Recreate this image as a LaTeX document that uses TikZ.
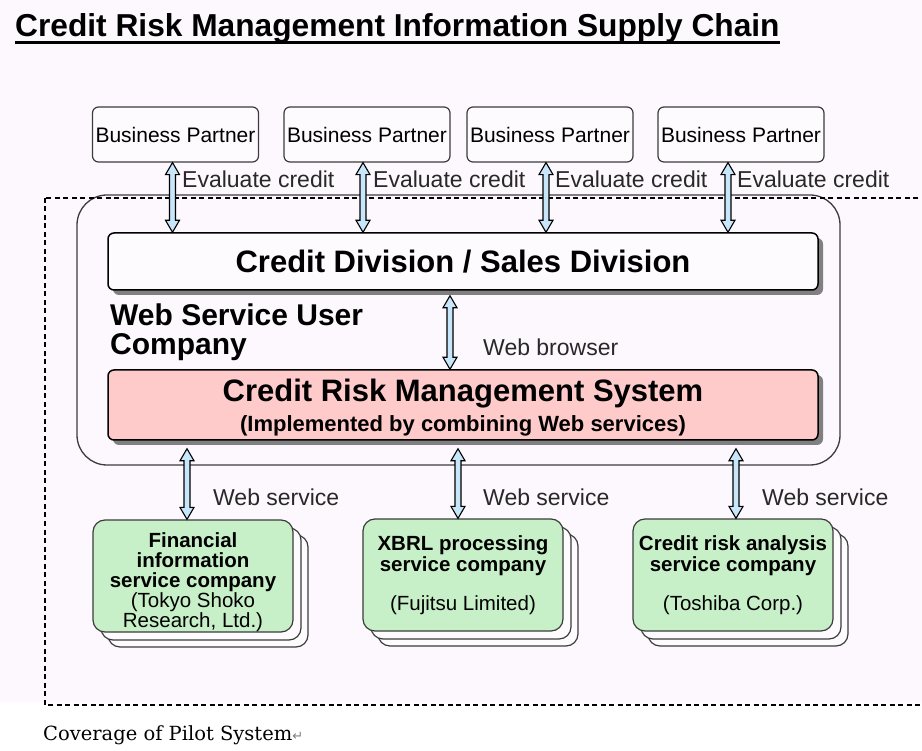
\documentclass[tikz,border=0pt]{standalone}
\usepackage{fontspec}
\setmainfont{Liberation Sans}
\newfontfamily\notefont{DejaVu Serif}
\newfontfamily\symbfont{DejaVu Sans}
\usetikzlibrary{calc,shadows}

\definecolor{pageColor}{RGB}{253,248,253}
\definecolor{lineColor}{RGB}{60,60,60}
\definecolor{shadowColor}{RGB}{128,128,128}
\definecolor{crmColor}{RGB}{255,202,202}
\definecolor{companyColor}{RGB}{200,240,200}
\definecolor{arrowColor}{RGB}{200,230,250}
\definecolor{textColor}{RGB}{40,40,40}

\tikzset{
  partner/.style={draw=lineColor, line width=1.2pt, rounded corners=6pt,
    fill=white!50!pageColor, minimum width=166pt, minimum height=55pt,
    inner sep=0pt, font=\fontsize{21}{24}\selectfont},
  division/.style={draw=black, line width=1.5pt, rounded corners=6pt,
    minimum width=710pt, inner sep=0pt, font=\bfseries\fontsize{31}{33}\selectfont,
    drop shadow={shadow xshift=5pt, shadow yshift=-5pt, fill=shadowColor, opacity=1}},
  company/.style={draw=lineColor, line width=1.2pt, rounded corners=12pt,
    minimum width=200pt, minimum height=112pt, inner sep=0pt, align=center,
    font=\fontsize{20.5}{21}\selectfont},
  flowlabel/.style={anchor=base west, inner sep=0pt, text=textColor,
    font=\fontsize{23}{26}\selectfont},
  linkarrow/.style={draw=black, line width=1.1pt, fill=arrowColor, line join=miter},
  coverage/.style={draw=black, line width=1.9pt, dash pattern=on 5pt off 3.5pt}
}

% hollow two-headed arrow, vertical, x taken from the first point
\newcommand{\wsarrow}[3][0pt]{%
  \draw[linkarrow] let \p1=(#2), \p2=(#3) in
    ({\x1+(#1)},\y1) -- ({\x1+(#1)+7pt},{\y1-12pt}) -- ({\x1+(#1)+3pt},{\y1-12pt})
    -- ({\x1+(#1)+3pt},{\y2+12pt}) -- ({\x1+(#1)+7pt},{\y2+12pt}) -- ({\x1+(#1)},\y2)
    -- ({\x1+(#1)-7pt},{\y2+12pt}) -- ({\x1+(#1)-3pt},{\y2+12pt})
    -- ({\x1+(#1)-3pt},{\y1-12pt}) -- ({\x1+(#1)-7pt},{\y1-12pt}) -- cycle;}

\begin{document}
\begin{tikzpicture}[x=1pt,y=-1pt]
\fill[white] (0,0) rectangle (922,751);
\fill[pageColor] (0,0) rectangle (922,702);
\path[use as bounding box] (0,0) rectangle (922,751);

% title
\node[anchor=base west, inner sep=0pt, font=\bfseries\fontsize{31.7}{34}\selectfont] (title) at (15,37)
  {Credit Risk Management Information Supply Chain};
\draw[line width=2.5pt] ([yshift=-5.5pt]title.base west) -- ([yshift=-5.5pt]title.base east);

% web service user company
\node[draw=lineColor, line width=1.3pt, rounded corners=30pt, minimum width=763pt,
  minimum height=270pt] (user) at (458.5,330) {};
\draw[coverage] (45,198) rectangle (935,705);

% business partners
\node[partner] (bp1) at (175.5,134.5) {Business Partner};
\node[partner] (bp2) at (367,134.5) {Business Partner};
\node[partner] (bp3) at (550,134.5) {Business Partner};
\node[partner] (bp4) at (741,134.5) {Business Partner};

\node[division, fill=white!50!pageColor, minimum height=57pt] (cdiv) at (463,261.5)
  {Credit Division / Sales Division};
\node[division, fill=crmColor, minimum height=70pt, align=center] (crm) at (463,405)
  {\rule{0pt}{28pt}Credit Risk Management System\\[-3pt]
   {\fontsize{22}{24}\selectfont (Implemented by combining Web services)}};

\node[anchor=north west, inner sep=0pt, align=left,
  font=\bfseries\fontsize{30}{29}\selectfont] (ulabel) at (110,304)
  {Web Service User\\Company};

% service companies, with their stacked copies behind
\coordinate (finc) at (193,576);
\coordinate (xbrlc) at (463,575);
\coordinate (riskc) at (733,575);
\foreach \c in {finc,xbrlc,riskc}
  \foreach \s in {15,8}
    \node[company, fill=white!50!pageColor] at ([shift={(\s,\s)}]\c) {};
\node[company, fill=companyColor, font=\fontsize{20.5}{20}\selectfont] (fin) at (finc)
  {\rule{0pt}{27pt}\textbf{Financial}\\\textbf{information}\\\textbf{service company}\\(Tokyo Shoko\\Research, Ltd.)};
\node[company, fill=companyColor] (xbrl) at (xbrlc)
  {\textbf{XBRL processing}\\\textbf{service company}\\[18pt](Fujitsu Limited)};
\node[company, fill=companyColor] (risk) at (riskc)
  {\textbf{Credit risk analysis}\\\textbf{service company}\\[18pt](Toshiba Corp.)};

% connectors
\foreach \bp/\dx in {bp1/-3pt,bp2/-4pt,bp3/-4pt,bp4/-13pt}
  \wsarrow[\dx]{\bp.south}{\bp.south |- cdiv.north};
\coordinate (cdivlow) at ([yshift=-5pt]cdiv.south);
\wsarrow[-13pt]{cdivlow}{crm.north};
\coordinate (crmlow) at ([yshift=-8pt]crm.south);
\wsarrow[-6pt]{crmlow -| fin.north}{fin.north};
\wsarrow[-5pt]{crmlow -| xbrl.north}{xbrl.north};
\wsarrow[3pt]{crmlow -| risk.north}{risk.north};

% labels
\node[flowlabel] (ev1) at (182,188) {Evaluate credit};
\node[flowlabel] (ev2) at (373,188) {Evaluate credit};
\node[flowlabel] (ev3) at (555,188) {Evaluate credit};
\node[flowlabel] (ev4) at (737,188) {Evaluate credit};
\node[flowlabel] (wb) at (483,356) {Web browser};
\node[flowlabel] (ws1) at (213,506) {Web service};
\node[flowlabel] (ws2) at (483,506) {Web service};
\node[flowlabel] (ws3) at (762,506) {Web service};

\node[anchor=base west, inner sep=0pt, font=\notefont\fontsize{19.5}{22}\selectfont] (note) at (43,740)
  {Coverage of Pilot System{\symbfont\fontsize{13}{15}\selectfont\color{shadowColor}↵}};
\end{tikzpicture}
\end{document}
